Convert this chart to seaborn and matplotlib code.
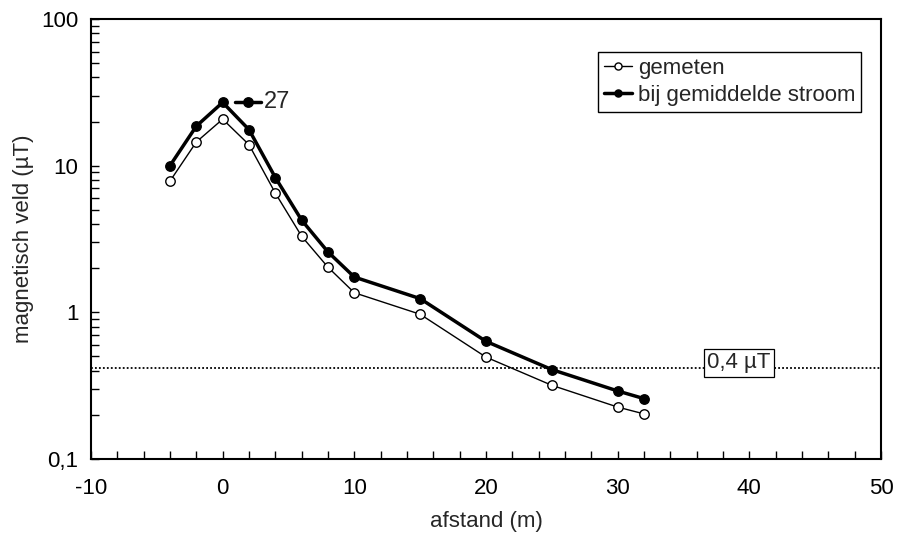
import matplotlib
matplotlib.use("Agg")
import matplotlib.pyplot as plt
import matplotlib.ticker as mticker
import numpy as np
import pandas as pd
import seaborn as sns

# ---- data ----
afstand_gemeten = [-4, -2, 0, 0, 2, 4, 6, 8, 10, 15, 20, 25, 30, 32]
veld_gemeten = [7.85, 14.5, 21.5, 20.0, 13.9, 6.5, 3.3, 2.03, 1.36, 0.97, 0.495, 0.318, 0.226, 0.203]
afstand_gem = [-4, -2, 0, 2, 4, 6, 8, 10, 15, 20, 25, 30, 32]
veld_gem = [10.0, 18.6, 27.0, 17.6, 8.3, 4.25, 2.58, 1.74, 1.24, 0.634, 0.407, 0.291, 0.258]
series_names = ["gemeten", "bij gemiddelde stroom"]
grenswaarde = 0.42
grens_label = "0,4 µT"
piek_label = "27"
piek_waarde = 27.0
x_ticks = [-10, 0, 10, 20, 30, 40, 50]
y_ticks = [0.1, 1, 10, 100]
y_ticklabels = ["0,1", "1", "10", "100"]

df1 = pd.DataFrame({"afstand": afstand_gemeten, "veld": veld_gemeten})
df2 = pd.DataFrame({"afstand": afstand_gem, "veld": veld_gem})

sns.set_style("ticks")
plt.rcParams["font.family"] = ["Liberation Sans", "DejaVu Sans"]
plt.rcParams["font.size"] = 16
plt.rcParams["axes.unicode_minus"] = False

FS = 16
MS = 6.8

fig = plt.figure(figsize=(8.98, 5.34), dpi=100)
ax = fig.add_axes([91/898, 1 - 459/534, 790/898, 440/534])

sns.lineplot(data=df1, x="afstand", y="veld", ax=ax, sort=False, color="black",
             linewidth=1.0, marker="o", markersize=MS, markerfacecolor="white",
             markeredgecolor="black", markeredgewidth=1.0, label=series_names[0])
sns.lineplot(data=df2, x="afstand", y="veld", ax=ax, sort=False, color="black",
             linewidth=2.5, marker="o", markersize=MS, markerfacecolor="black",
             markeredgecolor="black", markeredgewidth=1.0, label=series_names[1])

ax.set_yscale("log")
ax.set_xlim(-10, 50)
ax.set_ylim(0.1, 100)

# threshold line
ax.axhline(grenswaarde, color="black", linestyle=(0, (1, 1.2)), linewidth=1.3, zorder=1)
ax.text(39.2, 0.452, grens_label, ha="center", va="center", fontsize=FS,
        bbox=dict(boxstyle="square,pad=0.15", facecolor="white", edgecolor="black", linewidth=0.9))

# peak annotation
ax.plot([0.95, 2.9], [piek_waarde, piek_waarde], color="black", linewidth=2.5)
ax.plot([1.9], [piek_waarde], color="black", marker="o", markersize=MS,
        markeredgewidth=1.0, linestyle="none")
ax.text(3.1, piek_waarde, piek_label, ha="left", va="center", fontsize=FS + 1)

ax.set_xticks(x_ticks)
ax.xaxis.set_minor_locator(mticker.MultipleLocator(2))
ax.set_yticks(y_ticks)
ax.set_yticklabels(y_ticklabels)
ax.yaxis.set_minor_locator(mticker.LogLocator(base=10, subs=np.arange(2, 10)))
ax.yaxis.set_minor_formatter(mticker.NullFormatter())

ax.tick_params(axis="both", which="both", direction="in", length=6, width=1,
               colors="black", labelsize=FS, top=False, right=False)
ax.tick_params(axis="x", which="major", pad=14)
ax.tick_params(axis="y", which="major", pad=9)

for s in ax.spines.values():
    s.set_visible(True)
    s.set_color("black")
    s.set_linewidth(1.5)

ax.set_xlabel("afstand (m)", fontsize=FS, labelpad=8)
ax.set_ylabel("magnetisch veld (µT)", fontsize=FS, labelpad=5)

leg = ax.legend(loc="upper right", bbox_to_anchor=(0.9747, 0.925), borderaxespad=0,
                frameon=True, fancybox=False, edgecolor="black", fontsize=FS,
                handlelength=1.3, handletextpad=0.25, borderpad=0.25, labelspacing=0.3,
                markerscale=0.75)
leg.get_frame().set_linewidth(1.0)
leg.get_frame().set_alpha(1)

fig.savefig("out.png", dpi=100)
